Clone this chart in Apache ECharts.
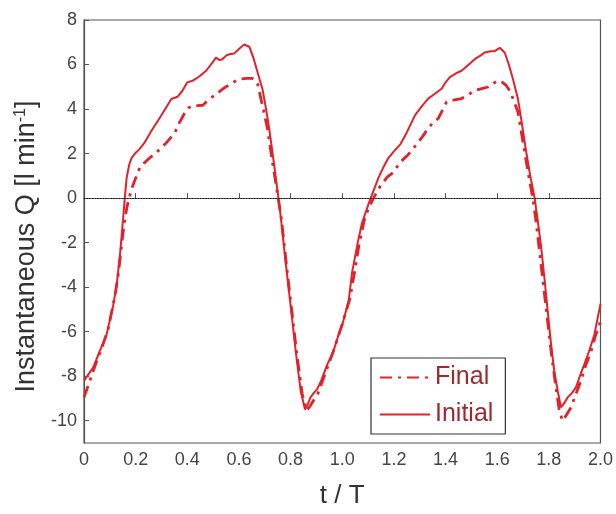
<!DOCTYPE html>
<html>
<head>
<meta charset="utf-8">
<script src="https://cdn.jsdelivr.net/npm/echarts@6/dist/echarts.min.js"></script>
<style>
  html, body { margin: 0; padding: 0; background: #fff; }
  #chart { width: 616px; height: 514px; }
</style>
</head>
<body>
<div id="chart"></div>
<script>
'use strict';

// t / T samples and flow values
var initialT = [0.000, 0.036, 0.060, 0.087, 0.113, 0.126, 0.139, 0.152, 0.158, 0.165, 0.175, 0.184, 0.197, 0.215, 0.235, 0.260, 0.293, 0.320, 0.338, 0.362, 0.380, 0.400, 0.420, 0.445, 0.473, 0.495, 0.511, 0.525, 0.536, 0.550, 0.563, 0.582, 0.600, 0.620, 0.640, 0.656, 0.672, 0.691, 0.705, 0.717, 0.735, 0.753, 0.762, 0.781, 0.800, 0.820, 0.839, 0.856, 0.865, 0.877, 0.890, 0.903, 0.920, 0.941, 0.965, 0.987, 1.000, 1.025, 1.038, 1.060, 1.076, 1.089, 1.110, 1.125, 1.141, 1.160, 1.179, 1.200, 1.224, 1.250, 1.282, 1.310, 1.333, 1.360, 1.385, 1.400, 1.417, 1.440, 1.462, 1.490, 1.513, 1.535, 1.552, 1.575, 1.590, 1.610, 1.629, 1.645, 1.661, 1.680, 1.695, 1.712, 1.728, 1.745, 1.758, 1.770, 1.783, 1.796, 1.808, 1.821, 1.835, 1.847, 1.860, 1.873, 1.890, 1.905, 1.920, 1.937, 1.955, 1.976, 2.000];
var initialQ = [-8.2, -7.6, -6.9, -6.15, -4.82, -3.94, -2.6, -0.84, 0, 0.9, 1.5, 1.8, 2.0, 2.2, 2.5, 3.0, 3.6, 4.1, 4.45, 4.55, 4.8, 5.2, 5.27, 5.45, 5.72, 6.05, 6.31, 6.2, 6.24, 6.4, 6.46, 6.5, 6.7, 6.9, 6.8, 6.3, 5.65, 4.9, 4.0, 3.14, 1.6, 0, -0.84, -2.9, -4.82, -6.89, -8.66, -9.5, -9.3, -8.95, -8.75, -8.58, -8.15, -7.5, -6.9, -6.1, -5.7, -4.6, -3.35, -2.0, -1.14, -0.69, 0, 0.45, 0.93, 1.4, 1.81, 2.1, 2.4, 2.95, 3.73, 4.15, 4.47, 4.7, 4.91, 5.2, 5.43, 5.6, 5.72, 6.0, 6.24, 6.4, 6.54, 6.6, 6.6, 6.75, 6.54, 6.0, 5.35, 4.47, 3.4, 2.1, 1.0, 0, -1.1, -2.17, -3.6, -5.12, -6.5, -7.77, -8.7, -9.4, -9.2, -8.95, -8.75, -8.5, -8.0, -7.48, -6.9, -6.15, -4.75];

var finalT = [0.000, 0.017, 0.049, 0.070, 0.094, 0.120, 0.133, 0.145, 0.155, 0.164, 0.172, 0.177, 0.187, 0.197, 0.216, 0.235, 0.254, 0.275, 0.293, 0.320, 0.351, 0.370, 0.389, 0.405, 0.421, 0.440, 0.460, 0.479, 0.510, 0.537, 0.570, 0.601, 0.630, 0.652, 0.662, 0.672, 0.685, 0.698, 0.710, 0.730, 0.752, 0.765, 0.785, 0.805, 0.825, 0.845, 0.862, 0.875, 0.888, 0.905, 0.935, 0.965, 0.999, 1.030, 1.045, 1.065, 1.085, 1.100, 1.121, 1.137, 1.153, 1.175, 1.198, 1.215, 1.230, 1.255, 1.282, 1.310, 1.333, 1.352, 1.372, 1.390, 1.404, 1.430, 1.462, 1.490, 1.513, 1.540, 1.565, 1.585, 1.603, 1.620, 1.635, 1.650, 1.661, 1.680, 1.693, 1.706, 1.722, 1.738, 1.752, 1.765, 1.780, 1.795, 1.810, 1.825, 1.840, 1.853, 1.865, 1.886, 1.905, 1.924, 1.943, 1.963, 1.980, 2.000];
var finalQ = [-8.95, -8.4, -7.33, -6.7, -5.86, -4.38, -3.4, -2.17, -1.2, -0.55, -0.1, 0.1, 0.5, 0.8, 1.37, 1.6, 1.8, 2.0, 2.18, 2.5, 2.92, 3.4, 3.8, 4.05, 4.17, 4.15, 4.17, 4.39, 4.65, 4.9, 5.15, 5.35, 5.38, 5.38, 5.3, 5.13, 4.47, 3.8, 3.14, 1.6, 0, -1.0, -3.1, -5.1, -7.1, -8.8, -9.55, -9.35, -9.1, -8.8, -7.85, -6.9, -5.7, -4.5, -3.5, -2.1, -1.0, -0.5, 0, 0.35, 0.63, 0.95, 1.15, 1.45, 1.67, 1.95, 2.33, 2.75, 3.14, 3.4, 3.58, 4.0, 4.32, 4.4, 4.47, 4.65, 4.84, 4.92, 4.99, 5.15, 5.28, 5.2, 5.06, 4.8, 4.47, 3.88, 3.0, 2.1, 1.0, 0, -1.2, -2.5, -4.0, -5.5, -7.0, -8.3, -9.5, -10.0, -9.8, -9.4, -8.8, -8.2, -7.5, -6.9, -6.2, -5.56];

var yTicks = [-10, -8, -6, -4, -2, 0, 2, 4, 6, 8];

function pairs(ts, qs) {
  return ts.map(function (t, i) { return [t, qs[i]]; });
}

var red = '#e0222a';
var axisGray = '#555';

var option = {
  animation: false,
  grid: {
    left: 84, right: 13, top: 20, bottom: 63,
    show: true, borderColor: axisGray, borderWidth: 1.2
  },
  legend: {
    orient: 'vertical',
    left: 371, top: 358,
    padding: [7, 12, 7, 8],
    itemGap: 12,
    itemWidth: 50, itemHeight: 18,
    itemStyle: { opacity: 0 },
    borderColor: '#333', borderWidth: 1.2,
    backgroundColor: '#fff',
    textStyle: { color: '#9e2a2e', fontSize: 25, fontFamily: 'Liberation Sans' },
    data: ['Final', 'Initial']
  },
  xAxis: {
    type: 'value',
    min: 0, max: 2, interval: 0.2,
    name: 't / T',
    nameLocation: 'middle',
    nameGap: 40,
    nameTextStyle: { color: '#333', fontSize: 26, fontFamily: 'Liberation Sans' },
    axisLine: { show: true, lineStyle: { color: axisGray, width: 1.2 } },
    axisTick: { show: true, inside: true, length: 5, lineStyle: { color: axisGray } },
    axisLabel: {
      color: '#444', fontSize: 18, margin: 8, fontFamily: 'Liberation Sans',
      formatter: function (v) { return v === 0 ? '0' : v.toFixed(1); }
    },
    splitLine: { show: false }
  },
  yAxis: {
    type: 'value',
    min: -11, max: 8,
    name: '{n|Instantaneous Q [l min}{s|-1}{n|]}',
    nameLocation: 'middle',
    nameGap: 42,
    nameTextStyle: {
      padding: [0, 30, 0, 0],
      rich: {
        n: { color: '#333', fontSize: 27, fontFamily: 'Liberation Sans' },
        s: { color: '#333', fontSize: 16, fontFamily: 'Liberation Sans', verticalAlign: 'top', padding: [0, 0, 10, 0] }
      }
    },
    axisLine: { show: true, lineStyle: { color: axisGray, width: 1.2 } },
    axisTick: { show: true, inside: true, length: 5, customValues: yTicks, lineStyle: { color: axisGray } },
    axisLabel: { color: '#444', fontSize: 18, margin: 7, fontFamily: 'Liberation Sans', customValues: yTicks },
    splitLine: { show: false }
  },
  series: [
    {
      name: 'Final',
      type: 'line',
      data: pairs(finalT, finalQ),
      symbol: 'none',
      color: red,
      lineStyle: { color: red, width: 2.8, type: [12, 6, 3, 6] },
      z: 3
    },
    {
      name: 'Initial',
      type: 'line',
      data: pairs(initialT, initialQ),
      symbol: 'none',
      color: red,
      lineStyle: { color: red, width: 2 },
      markLine: {
        silent: true,
        symbol: 'none',
        label: { show: false },
        lineStyle: { color: '#000', type: [1, 1.7], width: 1 },
        data: [{ yAxis: 0 }]
      },
      z: 2
    }
  ]
};

var chart = echarts.init(document.getElementById('chart'));
chart.setOption(option);
</script>
</body>
</html>
